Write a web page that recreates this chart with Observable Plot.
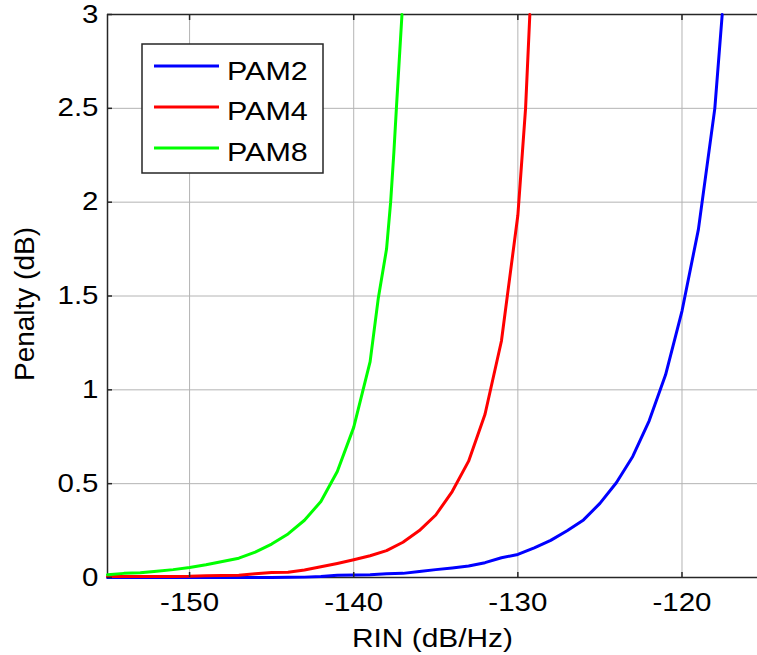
<!DOCTYPE html>
<html>
<head>
<meta charset="utf-8">
<script src="https://cdn.jsdelivr.net/npm/d3@7"></script>
<script src="https://cdn.jsdelivr.net/npm/@observablehq/plot@0.6"></script>
<style>
  body { margin: 0; background: #fff; }
  #wrap { position: relative; width: 757px; height: 655px; overflow: hidden; background: #fff; }
  #legend { position: absolute; left: 0; top: 0; pointer-events: none; }
</style>
</head>
<body>
<div id="wrap"></div>
<script>
// ---- data ----
const seriesNames = ["PAM2", "PAM4", "PAM8"];
const seriesColors = ["#0000ff", "#ff0000", "#00ff00"];

const pam2X = [-155,-154,-153,-152,-151,-150,-149,-148,-147,-146,-145,-144,-143,-142,-141,-140,-139,-138,-137,-136,-135,-134,-133,-132,-131,-130,-129,-128,-127,-126,-125,-124,-123,-122,-121,-120,-119,-118,-117.55];
const pam2Y = [0,0,0,0,0,0,0,0,0,0,0,0.001,0.002,0.005,0.012,0.013,0.015,0.02,0.022,0.032,0.042,0.051,0.061,0.079,0.105,0.123,0.158,0.198,0.249,0.307,0.395,0.505,0.645,0.835,1.08,1.42,1.855,2.5,3.0];

const pam4X = [-155,-154,-153,-152,-151,-150,-149,-148,-147,-146,-145,-144,-143,-142,-141,-140,-139,-138,-137,-136,-135,-134,-133,-132,-131,-130,-129.53,-129.27];
const pam4Y = [0.005,0.005,0.005,0.005,0.005,0.006,0.009,0.011,0.0125,0.02,0.027,0.028,0.04,0.057,0.075,0.095,0.116,0.143,0.188,0.25,0.333,0.458,0.62,0.87,1.26,1.93,2.5,3.0];

const pam8X = [-155,-154,-153,-152,-151,-150,-149,-148,-147,-146,-145,-144,-143,-142,-141,-140,-139,-138.5,-138,-137.75,-137.55,-137.4,-137.06];
const pam8Y = [0.015,0.022,0.025,0.033,0.042,0.053,0.068,0.085,0.103,0.135,0.178,0.232,0.305,0.405,0.565,0.80,1.15,1.49,1.75,2.0,2.27,2.5,3.0];

const xDomain = [-155, -115.4];
const yDomain = [0, 3];
const xTicks = [-150, -140, -130, -120];
const xTickLabels = ["-150", "-140", "-130", "-120"];
const yTicks = [0, 0.5, 1, 1.5, 2, 2.5, 3];
const yTickLabels = ["0", "0.5", "1", "1.5", "2", "2.5", "3"];
const xLabel = "RIN (dB/Hz)";
const yLabel = "Penalty (dB)";

// ---- build table ----
const seriesX = [pam2X, pam4X, pam8X];
const seriesY = [pam2Y, pam4Y, pam8Y];
const data = [];
seriesNames.forEach((name, s) => {
  seriesX[s].forEach((x, i) => data.push({series: name, x, y: seriesY[s][i]}));
});

const frameColor = "#262626";
const gridColor = "#b4b4b4";
const noText = () => "";

const plot = Plot.plot({
  width: 757,
  height: 655,
  marginLeft: 107,
  marginTop: 14,
  marginBottom: 78,
  marginRight: 0,
  style: {fontFamily: "'Liberation Sans', Arial, sans-serif", fontSize: "25px", color: "#000", background: "#fff", overflow: "visible"},
  x: {domain: xDomain},
  y: {domain: yDomain},
  color: {domain: seriesNames, range: seriesColors},
  marks: [
    Plot.gridX(xTicks, {stroke: gridColor, strokeOpacity: 1, strokeWidth: 1}),
    Plot.gridY(yTicks, {stroke: gridColor, strokeOpacity: 1, strokeWidth: 1}),
    Plot.ruleY(yDomain, {stroke: frameColor, strokeWidth: 1.5}),
    Plot.ruleX([xDomain[0]], {stroke: frameColor, strokeWidth: 1.5}),
    Plot.line(data, {x: "x", y: "y", z: "series", stroke: "series", strokeWidth: 3, strokeLinejoin: "round"}),
    // labelled axes (no tick marks)
    Plot.axisX(xTicks, {anchor: "bottom", tickSize: 0, tickPadding: 16,
      tickFormat: d => xTickLabels[xTicks.indexOf(d)], fontSize: 25,
      label: xLabel, labelArrow: "none", labelAnchor: "center", labelOffset: 69}),
    Plot.axisY(yTicks, {anchor: "left", tickSize: 0, tickPadding: 9,
      tickFormat: d => yTickLabels[yTicks.indexOf(d)], fontSize: 25,
      label: yLabel, labelArrow: "none", labelAnchor: "center", labelOffset: 93}),
    // inward tick marks
    Plot.axisX(xTicks, {anchor: "bottom", tickSize: 5, dy: -5, strokeWidth: 1.5, stroke: frameColor, tickFormat: noText, label: null}),
    Plot.axisX(xTicks, {anchor: "top", tickSize: 5, dy: 5, strokeWidth: 1.5, stroke: frameColor, tickFormat: noText, label: null}),
    Plot.axisY(yTicks, {anchor: "left", tickSize: 5, dx: 5, strokeWidth: 1.5, stroke: frameColor, tickFormat: noText, label: null})
  ]
});

const wrap = document.getElementById("wrap");
wrap.appendChild(plot);

// widen text horizontally like the reference rendering
function stretch(el, target) {
  el.setAttribute("textLength", target);
  el.setAttribute("lengthAdjust", "spacingAndGlyphs");
}
plot.querySelectorAll("text").forEach(t => {
  const s = t.textContent.trim();
  if (!s) return;
  if (s.startsWith("RIN")) {
    t.setAttribute("font-size", 26);
    stretch(t, 161);
  } else if (s.startsWith("Penalty")) {
    t.setAttribute("font-size", 27);
    stretch(t, 154);
    const g = t.parentNode;
    g.setAttribute("transform", ((g.getAttribute("transform") || "") + " translate(0,8)").trim());
  } else {
    stretch(t, t.getComputedTextLength() * 1.18);
  }
});

// ---- legend (inside plot area, top-left) ----
const leg = d3.select(wrap).append("svg")
  .attr("id", "legend").attr("width", 757).attr("height", 655);
leg.append("rect")
  .attr("x", 142).attr("y", 44).attr("width", 181).attr("height", 129)
  .attr("fill", "#fff").attr("stroke", frameColor).attr("stroke-width", 1.5);
seriesNames.forEach((name, i) => {
  const ly = 66 + i * 41;
  leg.append("line")
    .attr("x1", 154).attr("x2", 219).attr("y1", ly).attr("y2", ly)
    .attr("stroke", seriesColors[i]).attr("stroke-width", 3);
  const txt = leg.append("text")
    .attr("x", 227).attr("y", 79.5 + i * 40.5)
    .attr("font-family", "'Liberation Sans', Arial, sans-serif")
    .attr("font-size", 25).attr("fill", "#000")
    .text(name);
  const node = txt.node();
  stretch(node, node.getComputedTextLength() * 1.22);
});
</script>
</body>
</html>
